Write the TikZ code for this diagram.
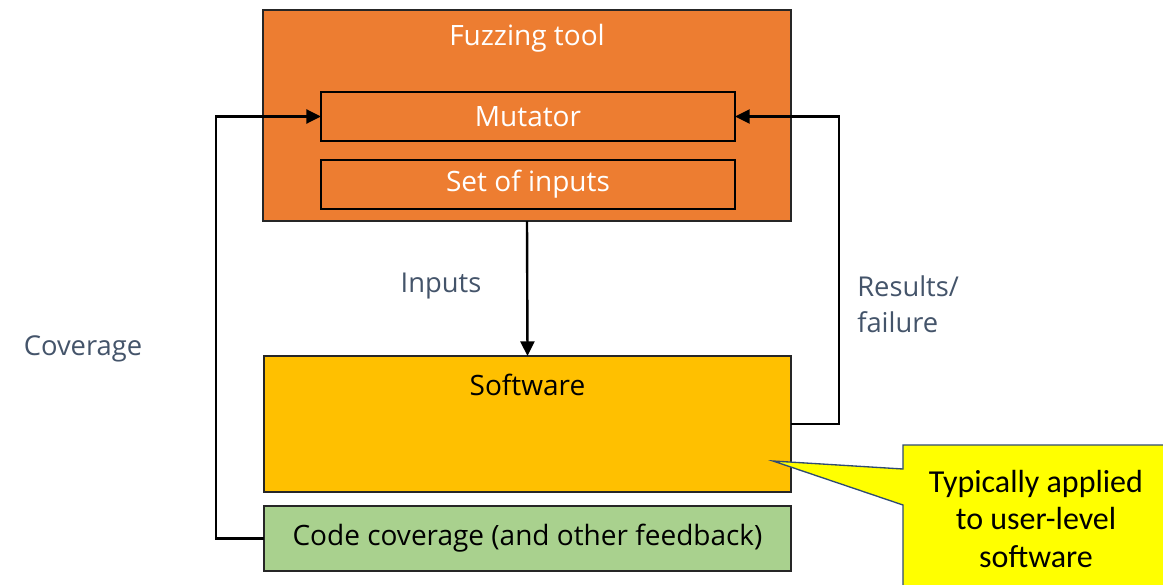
\documentclass[tikz,border=0pt]{standalone}
\usepackage{fontspec}
\setmainfont{Open Sans}
\newfontfamily\calloutfont{Carlito}
\usetikzlibrary{arrows.meta}
\definecolor{fuzzorange}{HTML}{ED7D31}
\definecolor{swgold}{HTML}{FFC000}
\definecolor{covgreen}{HTML}{A9D18E}
\definecolor{noteyellow}{HTML}{FFFF00}
\definecolor{labelgray}{HTML}{44546A}
\definecolor{notenavy}{HTML}{2F4B73}
\tikzset{
  boxfont/.style={font=\fontsize{21}{24}\selectfont},
  box/.style={draw=black!85, line width=1.2pt, inner sep=0pt, outer sep=0pt},
  innerbox/.style={draw=black, line width=1.6pt, inner sep=0pt, outer sep=0pt,
    minimum width=310.5pt, minimum height=36.75pt, text=white, boxfont},
  flow/.style={line width=1.8pt, -{Triangle[length=11pt,width=10.5pt]}},
  lbl/.style={text=labelgray, font=\fontsize{20.5}{27}\selectfont, inner sep=0pt}
}
\begin{document}
\begin{tikzpicture}[x=0.75pt, y=-0.75pt]
  \useasboundingbox (0,0) rectangle (1163,585);

  % fuzzing tool and its parts
  \node[box, fill=fuzzorange, minimum width=396pt, minimum height=158.25pt] (fuzz) at (527,115.5) {};
  \node[text=white, boxfont, inner sep=0pt] (fuzzlbl) at (527,38) {Fuzzing tool};
  \node[innerbox] (mut) at (528,116.5) {Mutator};
  \node[innerbox] (inputs) at (528,184.5) {Set of inputs};

  % program under test and feedback
  \node[box, fill=swgold, minimum width=395.25pt, minimum height=102pt] (sw) at (527.5,424) {};
  \node[boxfont, inner sep=0pt] (swlbl) at (527.5,385) {Software};
  \node[box, fill=covgreen, minimum width=395.25pt, minimum height=48.75pt,
        boxfont] (cov) at (527.5,538.5) {Code coverage (and other feedback)};

  % connectors
  \draw[flow] (fuzz.south) -- (sw.north);
  \coordinate (lcorner) at (216,538.5);
  \draw[flow] (cov.west) -- (lcorner) |- (mut.west);
  \coordinate (rcorner) at (839,424);
  \draw[flow] (sw.east) -- (rcorner) |- (mut.east);

  % edge labels
  \node[lbl] (inputslbl) at (441,286) {Inputs};
  \node[lbl] (covlbl) at (83,349) {Coverage};
  \node[lbl, anchor=west, align=left] (reslbl) at (857,304) {Results/\\failure};

  % callout
  \coordinate (tip) at (773,461);
  \draw[notenavy, line width=1pt, fill=noteyellow]
    (903,445) -- (1170,445) -- (1170,592) -- (903,592) -- (903,505) -- (tip) -- (903,469) -- cycle;
  \node[font=\calloutfont\fontsize{24}{28}\selectfont, align=center, inner sep=0pt] (note)
    at (1036,519) {Typically applied\\to user-level\\software};
\end{tikzpicture}
\end{document}
